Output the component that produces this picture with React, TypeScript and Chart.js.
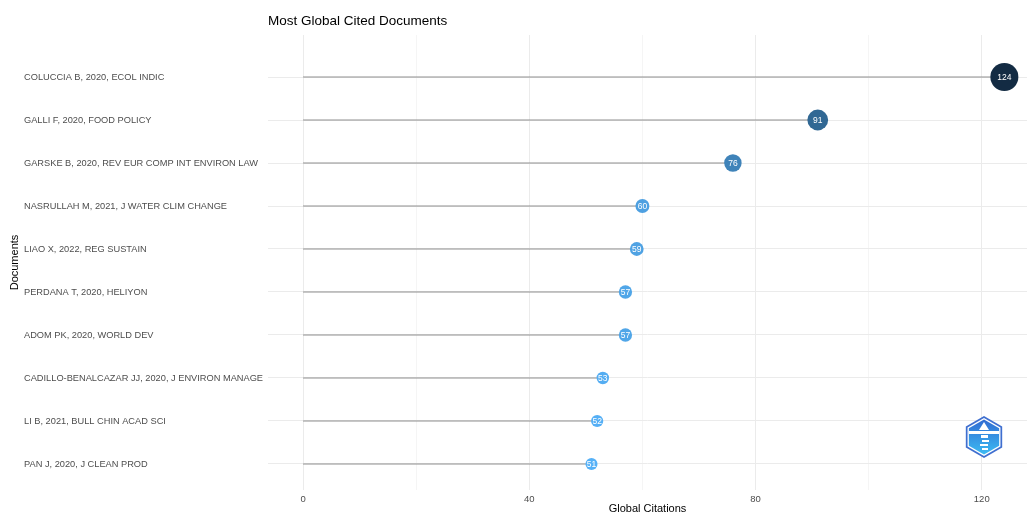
import React, { useEffect, useRef } from "react";
import { Chart, registerables } from "chart.js";

Chart.register(...registerables);

const documents = [
  "COLUCCIA B, 2020, ECOL INDIC",
  "GALLI F, 2020, FOOD POLICY",
  "GARSKE B, 2020, REV EUR COMP INT ENVIRON LAW",
  "NASRULLAH M, 2021, J WATER CLIM CHANGE",
  "LIAO X, 2022, REG SUSTAIN",
  "PERDANA T, 2020, HELIYON",
  "ADOM PK, 2020, WORLD DEV",
  "CADILLO-BENALCAZAR JJ, 2020, J ENVIRON MANAGE",
  "LI B, 2021, BULL CHIN ACAD SCI",
  "PAN J, 2020, J CLEAN PROD",
];
const citations = [124, 91, 76, 60, 59, 57, 57, 53, 52, 51];
const xGridValues = [0, 20, 40, 60, 80, 100, 120];
const xLabelValues = [0, 40, 80, 120];

const FONT = "'Liberation Sans', Arial, sans-serif";
const LOW = [86, 177, 247];
const HIGH = [19, 43, 67];

function colorFor(v: number, min: number, max: number) {
  const t = (v - min) / (max - min);
  const c = LOW.map((l, i) => Math.round(l + (HIGH[i] - l) * t));
  return `rgb(${c[0]},${c[1]},${c[2]})`;
}
function radiusFor(v: number, min: number, max: number) {
  return 6 + ((v - min) / (max - min)) * 8;
}

const decorPlugin = {
  id: "decor",
  afterDatasetsDraw(chart: any) {
    const ctx = chart.ctx;
    const area = chart.chartArea;
    // value labels
    const meta = chart.getDatasetMeta(chart.data.datasets.length - 1);
    ctx.save();
    ctx.fillStyle = "#ffffff";
    ctx.font = `8.5px ${FONT}`;
    ctx.textAlign = "center";
    ctx.textBaseline = "middle";
    meta.data.forEach((el: any, i: number) => {
      ctx.fillText(String(citations[i]), el.x, el.y + 0.5);
    });
    ctx.restore();

    // logo
    const cx = 984, cy = 437, R = 21;
    const hex = (r: number) => {
      ctx.beginPath();
      for (let k = 0; k < 6; k++) {
        const a = -Math.PI / 2 + (k * Math.PI) / 3;
        const px = cx + r * Math.cos(a);
        const py = cy + r * Math.sin(a);
        if (k === 0) ctx.moveTo(px, py);
        else ctx.lineTo(px, py);
      }
      ctx.closePath();
    };
    ctx.save();
    hex(R);
    ctx.fillStyle = "#3f6fd0";
    ctx.fill();
    hex(R - 2);
    ctx.fillStyle = "#ffffff";
    ctx.fill();
    hex(R - 3.5);
    const g = ctx.createLinearGradient(0, cy - R, 0, cy + R);
    g.addColorStop(0, "#2f63cf");
    g.addColorStop(1, "#3ec3f6");
    ctx.fillStyle = g;
    ctx.fill();
    ctx.fillStyle = "#ffffff";
    ctx.fillRect(cx - 15, cy - 6, 30, 3);
    ctx.beginPath();
    ctx.moveTo(cx, cy - 15);
    ctx.lineTo(cx - 5, cy - 7);
    ctx.lineTo(cx + 5, cy - 7);
    ctx.closePath();
    ctx.fill();
    ctx.fillRect(cx - 3, cy - 2, 7, 3);
    ctx.fillRect(cx - 2, cy + 3, 7, 2);
    ctx.fillRect(cx - 4, cy + 7, 8, 2);
    ctx.fillRect(cx - 2, cy + 11, 6, 2);
    ctx.restore();

    // title and y axis title
    ctx.save();
    ctx.fillStyle = "#000000";
    ctx.font = `13.5px ${FONT}`;
    ctx.textAlign = "left";
    ctx.textBaseline = "middle";
    ctx.fillText("Most Global Cited Documents", area.left, 21);
    ctx.font = `11px ${FONT}`;
    ctx.translate(15, (area.top + area.bottom) / 2);
    ctx.rotate(-Math.PI / 2);
    ctx.textAlign = "center";
    ctx.fillText("Documents", 0, 0);
    ctx.restore();
  },
};

export default function App() {
  const ref = useRef<HTMLCanvasElement>(null);
  useEffect(() => {
    document.body.style.margin = "0";
    if (!ref.current) return;
    const min = Math.min(...citations);
    const max = Math.max(...citations);
    const segmentSets = citations.map((v, i) => ({
      type: "line" as const,
      order: 1,
      data: [
        { x: 0, y: i + 1 },
        { x: v, y: i + 1 },
      ],
      borderColor: "#909090",
      borderWidth: 1.1,
      pointRadius: 0,
      showLine: true,
    }));
    const chart = new Chart(ref.current, {
      type: "scatter",
      data: {
        datasets: [
          ...segmentSets,
          {
            type: "scatter" as const,
            order: 0,
            data: citations.map((v, i) => ({ x: v, y: i + 1 })),
            pointRadius: citations.map((v) => radiusFor(v, min, max)),
            pointBackgroundColor: citations.map((v) => colorFor(v, min, max)),
            pointBorderWidth: 0,
            pointBorderColor: "rgba(0,0,0,0)",
          },
        ] as any,
      },
      options: {
        responsive: false,
        animation: false,
        events: [],
        layout: { autoPadding: false, padding: { left: 24, top: 35, right: 0, bottom: 0 } },
        plugins: {
          legend: { display: false },
          tooltip: { enabled: false },
          title: { display: false },
        },
        scales: {
          x: {
            type: "linear",
            min: -6.2,
            max: 128,
            afterBuildTicks: (s: any) => {
              s.ticks = xGridValues.map((v) => ({ value: v }));
            },
            afterFit: (s: any) => {
              s.height = 26;
            },
            ticks: {
              autoSkip: false,
              maxRotation: 0,
              padding: 4,
              color: "#4d4d4d",
              font: { family: FONT, size: 9.5 },
              callback: (v: any) => (xLabelValues.includes(Number(v)) ? String(v) : ""),
            },
            grid: {
              drawTicks: false,
              color: (c: any) =>
                xLabelValues.includes(c.tick?.value) ? "#ebebeb" : "#f3f3f3",
              lineWidth: (c: any) => (xLabelValues.includes(c.tick?.value) ? 1 : 0.8),
            },
            border: { display: false },
            title: {
              display: true,
              text: "Global Citations",
              color: "#000000",
              font: { family: FONT, size: 11 },
              padding: 0,
            },
          },
          y: {
            type: "linear",
            reverse: true,
            min: 0.023,
            max: 10.605,
            afterBuildTicks: (s: any) => {
              s.ticks = documents.map((_, i) => ({ value: i + 1 }));
            },
            afterFit: (s: any) => {
              s.width = 244;
            },
            ticks: {
              autoSkip: false,
              crossAlign: "far",
              color: "#4d4d4d",
              font: { family: FONT, size: 9.25 },
              callback: (v: any) => documents[Number(v) - 1] ?? "",
            },
            grid: { drawTicks: false, color: "#ebebeb", lineWidth: 1 },
            border: { display: false },
          },
        },
      },
      plugins: [decorPlugin],
    });
    return () => chart.destroy();
  }, []);
  return (
    <div style={{ position: "absolute", left: 0, top: 0, width: 1027, height: 516, background: "#fff" }}>
      <canvas ref={ref} width={1027} height={516} />
    </div>
  );
}
